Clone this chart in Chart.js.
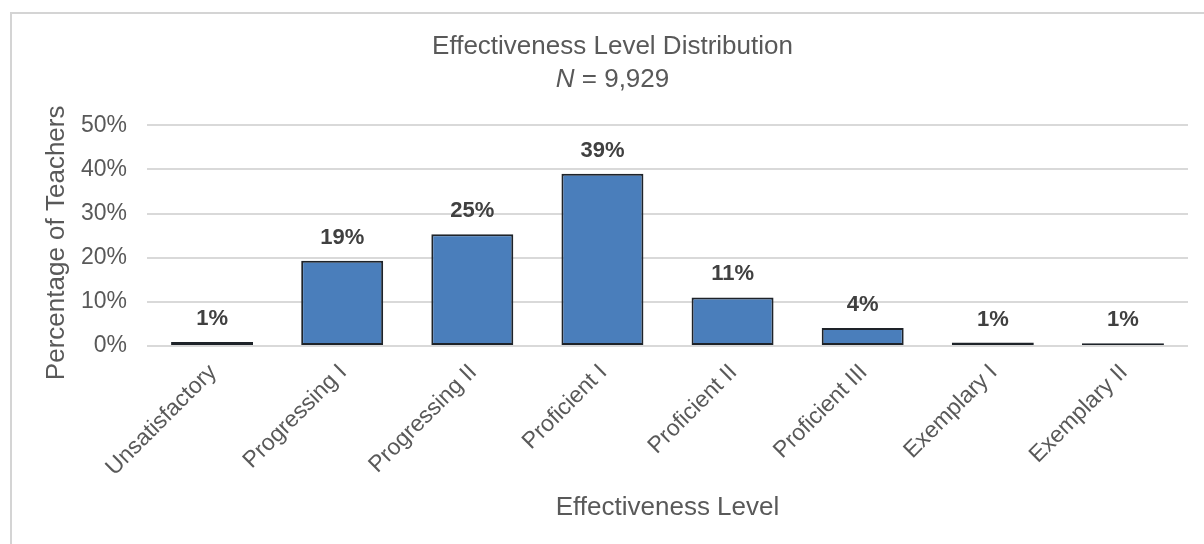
<!DOCTYPE html>
<html>
<head>
<meta charset="utf-8">
<title>Effectiveness Level Distribution</title>
<script src="https://cdn.jsdelivr.net/npm/chart.js@4.4.1/dist/chart.umd.min.js"></script>
<style>
  html, body { margin: 0; padding: 0; background: #fff; overflow: hidden; }
  #wrap { position: relative; width: 1204px; height: 544px; }
  #frame {
    position: absolute; left: 10px; top: 12px; width: 1300px; height: 700px;
    border-left: 2px solid #d4d4d4; border-top: 2px solid #d4d4d4;
  }
  canvas { position: absolute; left: 0; top: 0; }
</style>
</head>
<body>
<div id="wrap">
  <div id="frame"></div>
  <canvas id="chart" width="1204" height="544"></canvas>
</div>
<script>
const levels = ["Unsatisfactory", "Progressing I", "Progressing II", "Proficient I",
  "Proficient II", "Proficient III", "Exemplary I", "Exemplary II"];
const teacherPct = [0.9, 19.3, 25.3, 39.0, 11.0, 4.1, 0.8, 0.6];
const pctLabels = ["1%", "19%", "25%", "39%", "11%", "4%", "1%", "1%"];
const yTicks = [0, 10, 20, 30, 40, 50];

const textGray = "#595959";
const font = "'Liberation Sans', Arial, sans-serif";

// bold value labels above each bar
const barLabels = {
  id: "barLabels",
  afterDatasetsDraw(chart) {
    const ctx = chart.ctx;
    const meta = chart.getDatasetMeta(0);
    ctx.save();
    ctx.font = "bold 22px " + font;
    ctx.fillStyle = "#404040";
    ctx.textAlign = "center";
    ctx.textBaseline = "middle";
    meta.data.forEach((bar, i) => {
      ctx.fillText(pctLabels[i], bar.x, bar.y - 23);
    });
    ctx.restore();
  },
};

// second title line: italic N, then the count
const subTitle = {
  id: "subTitle",
  afterDraw(chart) {
    const tb = chart.titleBlock;
    if (!tb) return;
    const ctx = chart.ctx;
    const cx = (tb.left + tb.right) / 2;
    const y = tb.top + 49;
    const partA = "N";
    const partB = " = 9,929";
    ctx.save();
    ctx.fillStyle = textGray;
    ctx.textBaseline = "middle";
    ctx.font = "italic 26px " + font;
    const wA = ctx.measureText(partA).width;
    ctx.font = "26px " + font;
    const wB = ctx.measureText(partB).width;
    let x = cx - (wA + wB) / 2;
    ctx.textAlign = "left";
    ctx.font = "italic 26px " + font;
    ctx.fillText(partA, x, y);
    ctx.font = "26px " + font;
    ctx.fillText(partB, x + wA, y);
    ctx.restore();
  },
};

new Chart(document.getElementById("chart"), {
  type: "bar",
  data: {
    labels: levels,
    datasets: [{
      label: "Percentage of Teachers",
      data: teacherPct,
      backgroundColor: "#4a7ebb",
      borderColor: "#1e2329",
      borderWidth: 2,
      borderSkipped: false,
      barPercentage: 0.63,
      categoryPercentage: 1,
    }],
  },
  options: {
    responsive: false,
    animation: false,
    devicePixelRatio: 1,
    layout: { padding: { top: 31, left: 37, right: 16, bottom: 17 } },
    plugins: {
      legend: { display: false },
      tooltip: { enabled: false },
      title: {
        display: true,
        text: "Effectiveness Level Distribution",
        color: textGray,
        font: { family: font, size: 26, weight: "normal" },
        padding: { top: 0, bottom: 63 },
      },
    },
    scales: {
      x: {
        grid: { display: false },
        border: { display: false },
        ticks: {
          autoSkip: false,
          minRotation: 45,
          maxRotation: 45,
          padding: 5,
          labelOffset: 1,
          color: textGray,
          font: { family: font, size: 23 },
        },
        title: {
          display: true,
          text: "Effectiveness Level",
          color: textGray,
          font: { family: font, size: 26 },
          padding: { top: 4, bottom: 4 },
        },
        afterFit(scale) { scale.height = 181; },
      },
      y: {
        min: 0,
        max: 50,
        afterBuildTicks(scale) { scale.ticks = yTicks.map((v) => ({ value: v })); },
        grid: { color: "#d9d9d9", lineWidth: 2, drawTicks: false },
        border: { display: false },
        ticks: {
          padding: 20,
          color: textGray,
          font: { family: font, size: 23 },
          callback: (value) => value + "%",
        },
        title: {
          display: true,
          text: "Percentage of Teachers  ",
          color: textGray,
          font: { family: font, size: 26 },
          padding: { top: 4, bottom: 4 },
        },
        afterFit(scale) { scale.width = 110; },
      },
    },
  },
  plugins: [barLabels, subTitle],
});
</script>
</body>
</html>
